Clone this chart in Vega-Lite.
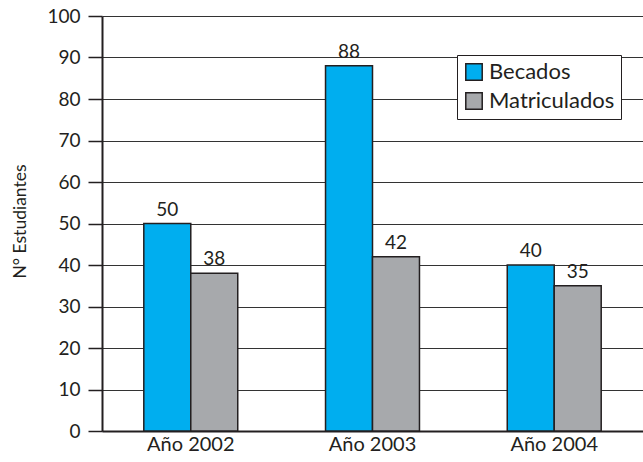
{
  "$schema": "https://vega.github.io/schema/vega-lite/v6.json",
  "width": 541,
  "height": 415,
  "autosize": {"type": "none"},
  "padding": {"left": 102, "top": 16, "right": 0, "bottom": 31},
  "background": "white",
  "config": {"view": {"stroke": null}, "font": "Lato"},
  "data": {
    "values": [
      {"anio": "Año 2002", "serie": "Becados", "valor": 50},
      {"anio": "Año 2002", "serie": "Matriculados", "valor": 38},
      {"anio": "Año 2003", "serie": "Becados", "valor": 88},
      {"anio": "Año 2003", "serie": "Matriculados", "valor": 42},
      {"anio": "Año 2004", "serie": "Becados", "valor": 40},
      {"anio": "Año 2004", "serie": "Matriculados", "valor": 35}
    ]
  },
  "encoding": {
    "x": {
      "field": "anio",
      "type": "nominal",
      "sort": null,
      "scale": {"paddingInner": 0.483, "paddingOuter": 0.23},
      "axis": {
        "title": null,
        "labelAngle": 0,
        "labelFontSize": 20,
        "labelColor": "#231f20",
        "labelPadding": 3,
        "domainColor": "#231f20",
        "domainWidth": 2,
        "ticks": false
      }
    },
    "xOffset": {"field": "serie", "type": "nominal", "sort": ["Becados", "Matriculados"], "scale": {"paddingInner": 0, "paddingOuter": 0}},
    "y": {
      "field": "valor",
      "type": "quantitative",
      "scale": {"domain": [0, 100], "nice": false},
      "axis": {
        "values": [0, 10, 20, 30, 40, 50, 60, 70, 80, 90, 100],
        "title": "N° Estudiantes",
        "titleFontSize": 17.5,
        "titleFontWeight": "normal",
        "titleColor": "#231f20",
        "titleX": -82,
        "titleY": 205,
        "titleAngle": 270,
        "titleAlign": "center",
        "titleBaseline": "middle",
        "labelFontSize": 19,
        "labelColor": "#231f20",
        "labelPadding": 8,
        "domainColor": "#231f20",
        "domainWidth": 2,
        "tickColor": "#231f20",
        "tickSize": 14,
        "tickWidth": 1.5,
        "grid": true,
        "gridColor": "#333333",
        "gridWidth": 1.2
      }
    }
  },
  "layer": [
    {
      "mark": {"type": "bar", "stroke": "#231f20", "strokeWidth": 1.5},
      "encoding": {
        "color": {
          "field": "serie",
          "type": "nominal",
          "scale": {"domain": ["Becados", "Matriculados"], "range": ["#00AEEF", "#A7A9AC"]},
          "legend": {
            "title": null,
            "orient": "none",
            "legendX": 355,
            "legendY": 39,
            "fillColor": "white",
            "strokeColor": "#231f20",
            "padding": 6,
            "symbolType": "square",
            "symbolSize": 270,
            "symbolStrokeColor": "#231f20",
            "symbolStrokeWidth": 1.5,
            "labelFontSize": 22,
            "labelColor": "#231f20",
            "rowPadding": 5,
            "labelOffset": 4
          }
        }
      }
    },
    {
      "mark": {"type": "text", "dy": -14, "fontSize": 19, "color": "#231f20"},
      "encoding": {"text": {"field": "valor", "type": "quantitative"}}
    }
  ]
}
